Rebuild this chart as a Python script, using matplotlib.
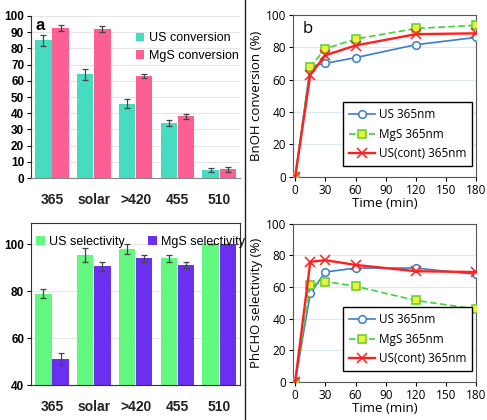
import numpy as np
import matplotlib
matplotlib.use("Agg")
import matplotlib.pyplot as plt
from matplotlib.lines import Line2D

plt.rcParams["font.family"] = ["Liberation Sans", "DejaVu Sans"]

# panel a data
wavelengths = ["365", "solar", ">420", "455", "510"]
us_conv = [85, 64, 46, 34, 5]
us_conv_err = [3.5, 3.5, 3, 2, 1.5]
mgs_conv = [92.5, 92, 63, 38, 5.5]
mgs_conv_err = [2, 2, 1.5, 1.5, 1.5]
us_sel = [79, 95.5, 98, 94, 100]
us_sel_err = [2, 3, 2, 1.5, 0]
mgs_sel = [51, 90.5, 94, 91, 100]
mgs_sel_err = [2.5, 2, 1.5, 1.2, 0]

# panel b data
time_min = [0, 15, 30, 60, 120, 180]
us_bnoh = [0, 68, 70, 73.5, 81.5, 86]
mgs_bnoh = [0, 68, 79, 85, 91.5, 93.5]
uscont_bnoh = [0, 63, 75, 81, 88, 88.5]
us_phcho = [0, 56, 69.5, 72, 72, 68]
mgs_phcho = [0, 61, 63.5, 60.5, 51.5, 46]
uscont_phcho = [0, 76, 77, 74, 70, 69.5]

TEAL = "#45dcc0"
PINK = "#fb5f93"
GREEN = "#62f77e"
PURPLE = "#6a2ff0"
BLUE = "#3b7fc6"
LGREEN = "#3fd23a"
RED = "#ff1f1f"

fig = plt.figure(figsize=(4.87, 4.2), dpi=100)

x = np.arange(len(wavelengths))
bw = 0.39
err_kw = dict(ecolor="#444444", elinewidth=0.9, capsize=2, capthick=0.9)


def style_bar_axes(ax):
    ax.set_xlim(-0.5, 4.5)
    ax.set_xticks(x)
    ax.set_xticklabels(wavelengths, fontsize=10, fontweight="bold", color="#222222")
    ax.tick_params(axis="x", length=0, pad=11)
    ax.tick_params(axis="y", labelsize=8.5, length=3, pad=2)
    for lab in ax.get_yticklabels():
        lab.set_fontweight("bold")
    ax.grid(axis="y", color="#e6e6e6", lw=0.8, zorder=0)


# ---- top left
ax1 = fig.add_axes([0.064, 0.576, 0.429, 0.386])
ax1.bar(x - bw / 2 - 0.01, us_conv, bw, yerr=us_conv_err, color=TEAL,
        label="US conversion", error_kw=err_kw, zorder=2)
ax1.bar(x + bw / 2 + 0.01, mgs_conv, bw, yerr=mgs_conv_err, color=PINK,
        label="MgS conversion", error_kw=err_kw, zorder=2)
ax1.set_ylim(0, 100)
ax1.set_yticks(range(0, 101, 10))
style_bar_axes(ax1)
for s in ["top", "right"]:
    ax1.spines[s].set_visible(False)
ax1.spines["left"].set_color("#333333")
ax1.spines["bottom"].set_color("#888888")
ax1.text(0.02, 0.985, "a", transform=ax1.transAxes, fontsize=12,
         fontweight="bold", va="top")
ax1.legend(loc="upper right", bbox_to_anchor=(1.02, 0.93), frameon=False,
           fontsize=9, handlelength=0.7, handleheight=0.7, handletextpad=0.4,
           labelspacing=0.45, borderaxespad=0)

# ---- bottom left
ax2 = fig.add_axes([0.064, 0.083, 0.429, 0.386])
ax2.bar(x - bw / 2 - 0.01, us_sel, bw, yerr=us_sel_err, color=GREEN,
        label="US selectivity", error_kw=err_kw, zorder=2)
ax2.bar(x + bw / 2 + 0.01, mgs_sel, bw, yerr=mgs_sel_err, color=PURPLE,
        label="MgS selectivity", error_kw=err_kw, zorder=2)
ax2.set_ylim(40, 109)
ax2.set_yticks([40, 60, 80, 100])
style_bar_axes(ax2)
for s in ax2.spines.values():
    s.set_color("#333333")
ax2.legend(loc="upper left", bbox_to_anchor=(0.0, 0.95), ncol=2, frameon=False,
           fontsize=9, handlelength=0.7, handleheight=0.7, handletextpad=0.3,
           columnspacing=1.9, borderaxespad=0)

# ---- right panels
line_font = ["Open Sans", "DejaVu Sans"]


def line_panel(rect, us, mgs, uscont, ylabel, label_b=False):
    ax = fig.add_axes(rect)
    ax.plot(time_min, us, color=BLUE, lw=1.2, marker="o", ms=5.5,
            mfc="white", mec=BLUE, mew=1.1, label="US 365nm", zorder=3)
    ax.plot(time_min, mgs, color=LGREEN, lw=1.2, ls=(0, (4, 2)), marker="s",
            ms=5.5, mfc="#eef03c", mec="#5ad02a", mew=1.1, label="MgS 365nm",
            zorder=3)
    ax.plot(time_min, uscont, color=RED, lw=1.7, marker="x", ms=6.5,
            mec=RED, mew=1.1, label="US(cont) 365nm", zorder=4)
    ax.set_xlim(-2, 180)
    ax.set_ylim(0, 100)
    ax.set_xticks(range(0, 181, 30))
    ax.set_yticks(range(0, 101, 20))
    ax.grid(axis="y", color="#dde8f0", lw=0.8, zorder=0)
    ax.tick_params(labelsize=8.5, length=3, pad=2, direction="out")
    for lab in ax.get_xticklabels() + ax.get_yticklabels():
        lab.set_family(line_font)
    ax.set_xlabel("Time (min)", fontsize=9.5, family=line_font, labelpad=0)
    ax.set_ylabel(ylabel, fontsize=9.5, family=line_font, labelpad=2)
    for s in ax.spines.values():
        s.set_color("#555555")
    leg = ax.legend(loc="lower right", bbox_to_anchor=(1.01, 0.03),
                    prop={"family": line_font, "size": 8.5}, fancybox=False,
                    edgecolor="black", handlelength=2.2, labelspacing=0.55,
                    borderpad=0.5, handletextpad=0.3, framealpha=1)
    leg.get_frame().set_linewidth(1.0)
    if label_b:
        ax.text(0.05, 0.96, "b", transform=ax.transAxes, fontsize=12,
                family=line_font, va="top")
    return ax


line_panel([0.602, 0.579, 0.376, 0.386], us_bnoh, mgs_bnoh, uscont_bnoh,
           "BnOH conversion (%)", label_b=True)
line_panel([0.602, 0.091, 0.376, 0.376], us_phcho, mgs_phcho, uscont_phcho,
           "PhCHO selectivity (%)")

# separator between a and b
fig.add_artist(Line2D([0.503, 0.503], [0.0, 1.0], color="#222222", lw=1.0))

fig.savefig("out.png", dpi=100)
